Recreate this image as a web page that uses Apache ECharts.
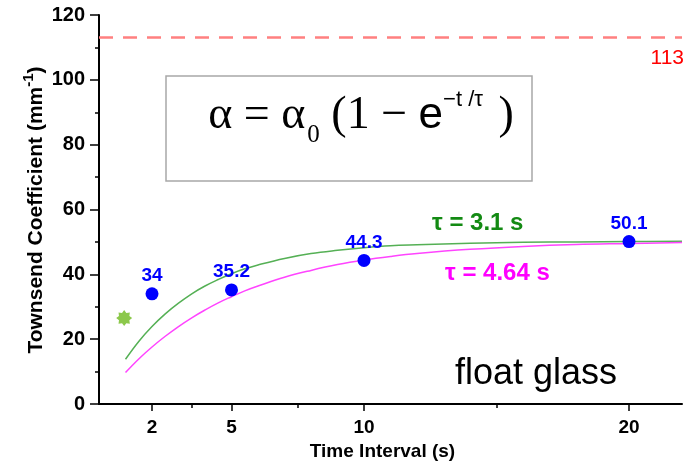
<!DOCTYPE html>
<html>
<head>
<meta charset="utf-8">
<script src="https://cdn.jsdelivr.net/npm/echarts@6/dist/echarts.min.js"></script>
<style>
  html, body { margin: 0; padding: 0; background: #fff; }
  #chart { width: 693px; height: 461px; }
</style>
</head>
<body>
<div id="chart"></div>
<script>
// tick labels on the time axis
const timeTicks = [2, 5, 10, 20]
const minorTimeTicks = [3.5, 7.5, 15]

// measured points
const measTime = [2, 5, 10, 20]
const measAlpha = [34, 35.2, 44.3, 50.1]
const starPoint = [0.95, 26.5]

// fitted curves
const fitTime = [1, 1.5, 2, 2.5, 3, 3.5, 4, 4.5, 5, 5.5, 6, 7, 8, 9, 10, 11, 12, 14, 16, 18, 20, 22]
const fitFast = [13.8, 19.3, 23.9, 27.8, 31.1, 34.0, 36.4, 38.4, 40.2, 41.7, 42.9, 44.9, 46.4, 47.4, 48.2, 48.8, 49.1, 49.6, 49.9, 50.0, 50.1, 50.2] // tau = 3.1 s
const fitSlow = [9.7, 13.9, 17.6, 20.9, 23.9, 26.6, 29.0, 31.2, 33.1, 34.9, 36.4, 39.1, 41.2, 43.0, 44.4, 45.5, 46.4, 47.7, 48.6, 49.2, 49.5, 49.8] // tau = 4.64 s

const limitValue = 113

const sans = 'Liberation Sans, Arial, sans-serif'
const serif = 'Liberation Serif, Times New Roman, serif'

// 8 point star for the green marker
function starPath() {
  let pts = []
  for (let i = 0; i < 16; i++) {
    const r = i % 2 === 0 ? 10 : 7
    const a = (Math.PI / 8) * i
    pts.push((10 + r * Math.sin(a)).toFixed(2) + ' ' + (10 - r * Math.cos(a)).toFixed(2))
  }
  return 'path://M' + pts.join(' L') + ' Z'
}

const zip = (xs, ys) => xs.map((x, i) => [x, ys[i]])

const myChart = echarts.init(document.getElementById('chart'))
myChart.setOption({
  animation: false,
  grid: { left: 99, right: 11, top: 15, bottom: 57, outerBoundsMode: 'none' },
  xAxis: [
    {
      type: 'value',
      min: 0,
      max: 22,
      name: 'Time Interval (s)',
      nameLocation: 'middle',
      nameGap: 35,
      nameTextStyle: { fontFamily: sans, fontWeight: 'bold', fontSize: 19, color: '#000', padding: [0, 16, 0, 0] },
      axisLine: { lineStyle: { color: '#000', width: 2 } },
      axisTick: { customValues: timeTicks, length: 7, lineStyle: { color: '#000', width: 1.5 } },
      axisLabel: {
        customValues: timeTicks,
        margin: 14,
        fontFamily: sans,
        fontWeight: 'bold',
        fontSize: 19,
        color: '#000',
      },
      splitLine: { show: false },
    },
    {
      // minor ticks only
      type: 'value',
      min: 0,
      max: 22,
      position: 'bottom',
      axisLine: { show: false },
      axisTick: { customValues: minorTimeTicks, length: 4, lineStyle: { color: '#000', width: 1.5 } },
      axisLabel: { show: false },
      splitLine: { show: false },
    },
  ],
  yAxis: {
    type: 'value',
    min: 0,
    max: 120,
    interval: 20,
    axisLine: { show: true, lineStyle: { color: '#000', width: 2 } },
    axisTick: { show: true, length: 9, lineStyle: { color: '#000', width: 1.5 } },
    minorTick: { show: true, splitNumber: 2, length: 4, lineStyle: { color: '#000', width: 1.5 } },
    axisLabel: { margin: 14, fontFamily: sans, fontWeight: 'bold', fontSize: 20, color: '#000' },
    splitLine: { show: false },
  },
  series: [
    {
      name: 'tau 3.1',
      type: 'line',
      smooth: 0.4,
      showSymbol: false,
      data: zip(fitTime, fitFast),
      lineStyle: { color: '#55b055', width: 1.5 },
      z: 2,
    },
    {
      name: 'tau 4.64',
      type: 'line',
      smooth: 0.4,
      showSymbol: false,
      data: zip(fitTime, fitSlow),
      lineStyle: { color: '#ff44ff', width: 1.5 },
      z: 2,
    },
    {
      name: 'measured',
      type: 'scatter',
      symbolSize: 13,
      data: zip(measTime, measAlpha),
      itemStyle: { color: '#0000ff', opacity: 1 },
      label: {
        show: true,
        position: 'top',
        distance: 2,
        fontFamily: sans,
        fontWeight: 'bold',
        fontSize: 19,
        color: '#0000ff',
        formatter: (p) => p.value[1],
      },
      markLine: {
        silent: true,
        symbol: 'none',
        data: [{ yAxis: limitValue }],
        lineStyle: { color: '#ff8080', type: [14, 10], width: 2.5, opacity: 1 },
        label: { show: false },
      },
      z: 3,
    },
    {
      name: 'star',
      type: 'scatter',
      symbol: starPath(),
      symbolSize: 16,
      data: [starPoint],
      itemStyle: { color: '#8cc84b', opacity: 1 },
      z: 3,
    },
  ],
  graphic: [
    {
      // y axis title
      type: 'text',
      x: 36,
      y: 210,
      rotation: Math.PI / 2,
      style: {
        text: 'Townsend Coefficient (mm{sup|-1})',
        align: 'center',
        verticalAlign: 'middle',
        fontFamily: sans,
        fontWeight: 'bold',
        fontSize: 21,
        fill: '#000',
        rich: {
          sup: { fontFamily: sans, fontWeight: 'bold', fontSize: 15, fill: '#000', padding: [0, 0, 14, 0] },
        },
      },
    },
    {
      type: 'rect',
      shape: { x: 166, y: 76, width: 366, height: 105 },
      style: { fill: 'none', stroke: '#a8a8a8', lineWidth: 1.5 },
    },
    {
      type: 'text',
      x: 361,
      y: 116,
      style: {
        text: '{a|α = α}{sub|0}{a| (1 − }{e|e}{sup|−t /τ}{a| )}',
        align: 'center',
        verticalAlign: 'middle',
        fill: '#000',
        rich: {
          a: { fontFamily: serif, fontSize: 46, fill: '#000' },
          sub: { fontFamily: serif, fontSize: 25, fill: '#000', padding: [38, 0, 0, 2] },
          e: { fontFamily: sans, fontSize: 44, fill: '#000' },
          sup: { fontFamily: sans, fontSize: 22, fill: '#000', padding: [0, 4, 32, 0] },
        },
      },
    },
    {
      type: 'text',
      x: 684,
      y: 58,
      style: {
        text: String(limitValue),
        align: 'right',
        verticalAlign: 'middle',
        fontFamily: sans,
        fontSize: 21,
        fill: '#ff0000',
      },
    },
    {
      type: 'text',
      x: 432,
      y: 223,
      style: {
        text: 'τ = 3.1 s',
        verticalAlign: 'middle',
        fontFamily: sans,
        fontWeight: 'bold',
        fontSize: 24,
        fill: '#138a13',
      },
    },
    {
      type: 'text',
      x: 445,
      y: 273,
      style: {
        text: 'τ = 4.64 s',
        verticalAlign: 'middle',
        fontFamily: sans,
        fontWeight: 'bold',
        fontSize: 24,
        fill: '#ff00ff',
      },
    },
    {
      type: 'text',
      x: 455,
      y: 374,
      style: {
        text: 'float glass',
        verticalAlign: 'middle',
        fontFamily: sans,
        fontSize: 36,
        fill: '#000',
      },
    },
  ],
})
</script>
</body>
</html>
